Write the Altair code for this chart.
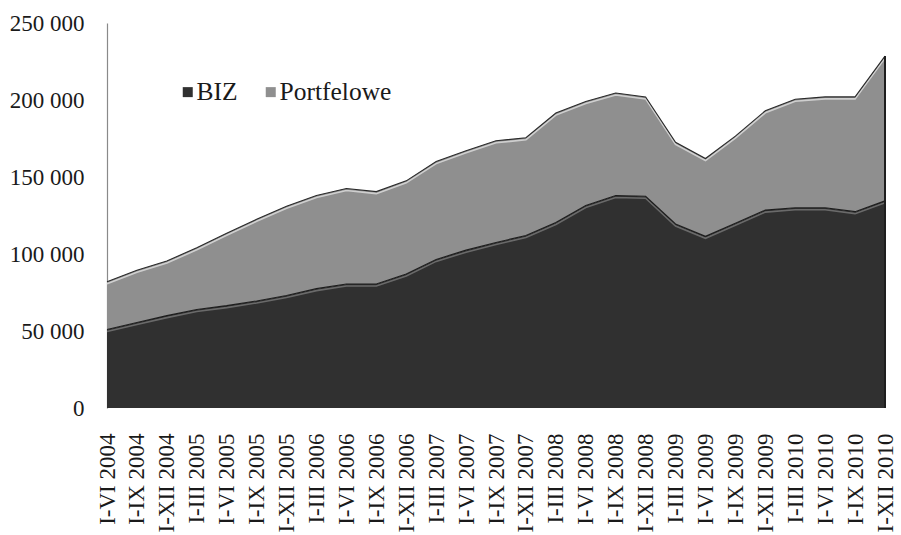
import altair as alt
import pandas as pd

categories = [
    "I-VI 2004", "I-IX 2004", "I-XII 2004",
    "I-III 2005", "I-VI 2005", "I-IX 2005", "I-XII 2005",
    "I-III 2006", "I-VI 2006", "I-IX 2006", "I-XII 2006",
    "I-III 2007", "I-VI 2007", "I-IX 2007", "I-XII 2007",
    "I-III 2008", "I-VI 2008", "I-IX 2008", "I-XII 2008",
    "I-III 2009", "I-VI 2009", "I-IX 2009", "I-XII 2009",
    "I-III 2010", "I-VI 2010", "I-IX 2010", "I-XII 2010",
]
biz = [51000, 55500, 60000, 64000, 66500, 69500, 73000, 77500, 80500, 80500,
       87000, 96500, 102500, 107500, 112000, 120500, 131500, 138000, 137500,
       119500, 111500, 120000, 128500, 130000, 130000, 127500, 134500]
portfelowe = [31000, 34000, 35500, 40000, 47000, 53000, 58000, 60500, 62000,
              60000, 60500, 63500, 64500, 66000, 63500, 71000, 67500, 66500,
              64500, 53000, 50500, 56500, 64500, 70500, 72000, 74500, 94000]
y_ticks = [0, 50000, 100000, 150000, 200000, 250000]

df = pd.DataFrame({"cat": categories, "BIZ": biz, "Portfelowe": portfelowe})

FONT = "Liberation Serif"
DARK = "#303030"
GRAY = "#8f8f8f"

x_enc = alt.X(
    "cat:O",
    sort=categories,
    scale=alt.Scale(type="point", padding=0),
    axis=alt.Axis(
        title=None, labelAngle=-90, labelFont=FONT, labelFontSize=23,
        labelColor="#1a1a1a", labelPadding=25, ticks=False, domain=False,
        labelOverlap=False,
    ),
)
y_scale = alt.Scale(domain=[0, 250000], nice=False)
y_axis = alt.Axis(
    title=None, values=y_ticks, labelFont=FONT, labelFontSize=23,
    labelColor="#1a1a1a", labelPadding=23, ticks=False, grid=False,
    domain=True, domainColor="#8a8a8a", domainWidth=1.2,
    labelExpr="replace(format(datum.value, ','), ',', ' ')",
)

base = alt.Chart(df)

areas = base.transform_fold(
    ["BIZ", "Portfelowe"], as_=["series", "value"]
).transform_calculate(
    ord="datum.series == 'BIZ' ? 0 : 1"
).mark_area(opacity=1).encode(
    x=x_enc,
    y=alt.Y("value:Q", stack="zero", scale=y_scale, axis=y_axis),
    color=alt.Color(
        "series:N",
        scale=alt.Scale(domain=["BIZ", "Portfelowe"], range=[DARK, GRAY]),
        legend=alt.Legend(
            title=None, orient="none", legendX=58, legendY=56,
            direction="horizontal", symbolType="M-0.2,-1H1.8V1H-0.2Z",
            symbolSize=100, symbolStrokeWidth=0, symbolOffset=6,
            labelFont=FONT, labelFontSize=25.5, labelColor="#1a1a1a",
            labelOffset=0, columnPadding=10, padding=0,
        ),
    ),
    order=alt.Order("ord:Q"),
)

tot = base.transform_calculate(total="datum.BIZ + datum.Portfelowe")

total_hl = tot.mark_line(color="#cfcfcf", strokeWidth=1.6, yOffset=2).encode(
    x=x_enc, y=alt.Y("total:Q", scale=y_scale))
total_line = tot.mark_line(color="#2a2a2a", strokeWidth=1.1).encode(
    x=x_enc, y=alt.Y("total:Q", scale=y_scale))
biz_hl = base.mark_line(color="#6a6a6a", strokeWidth=1.6, yOffset=2).encode(
    x=x_enc, y=alt.Y("BIZ:Q", scale=y_scale))
biz_line = base.mark_line(color="#1c1c1c", strokeWidth=1.1).encode(
    x=x_enc, y=alt.Y("BIZ:Q", scale=y_scale))
edge = tot.transform_filter(
    "datum.cat == 'I-XII 2010'"
).mark_rule(color="#1e1e1e", strokeWidth=2).encode(
    x=x_enc, y=alt.Y("total:Q", scale=y_scale), y2=alt.datum(0))

chart = alt.layer(areas, total_hl, total_line, biz_hl, biz_line, edge).properties(
    width=778, height=385,
    autosize=alt.AutoSizeParams(type="none"),
    padding={"left": 107, "top": 23, "right": 16, "bottom": 127},
    background="white",
).configure_view(stroke=None)

chart.save("out.html", embed_options={"renderer": "svg", "actions": False})
